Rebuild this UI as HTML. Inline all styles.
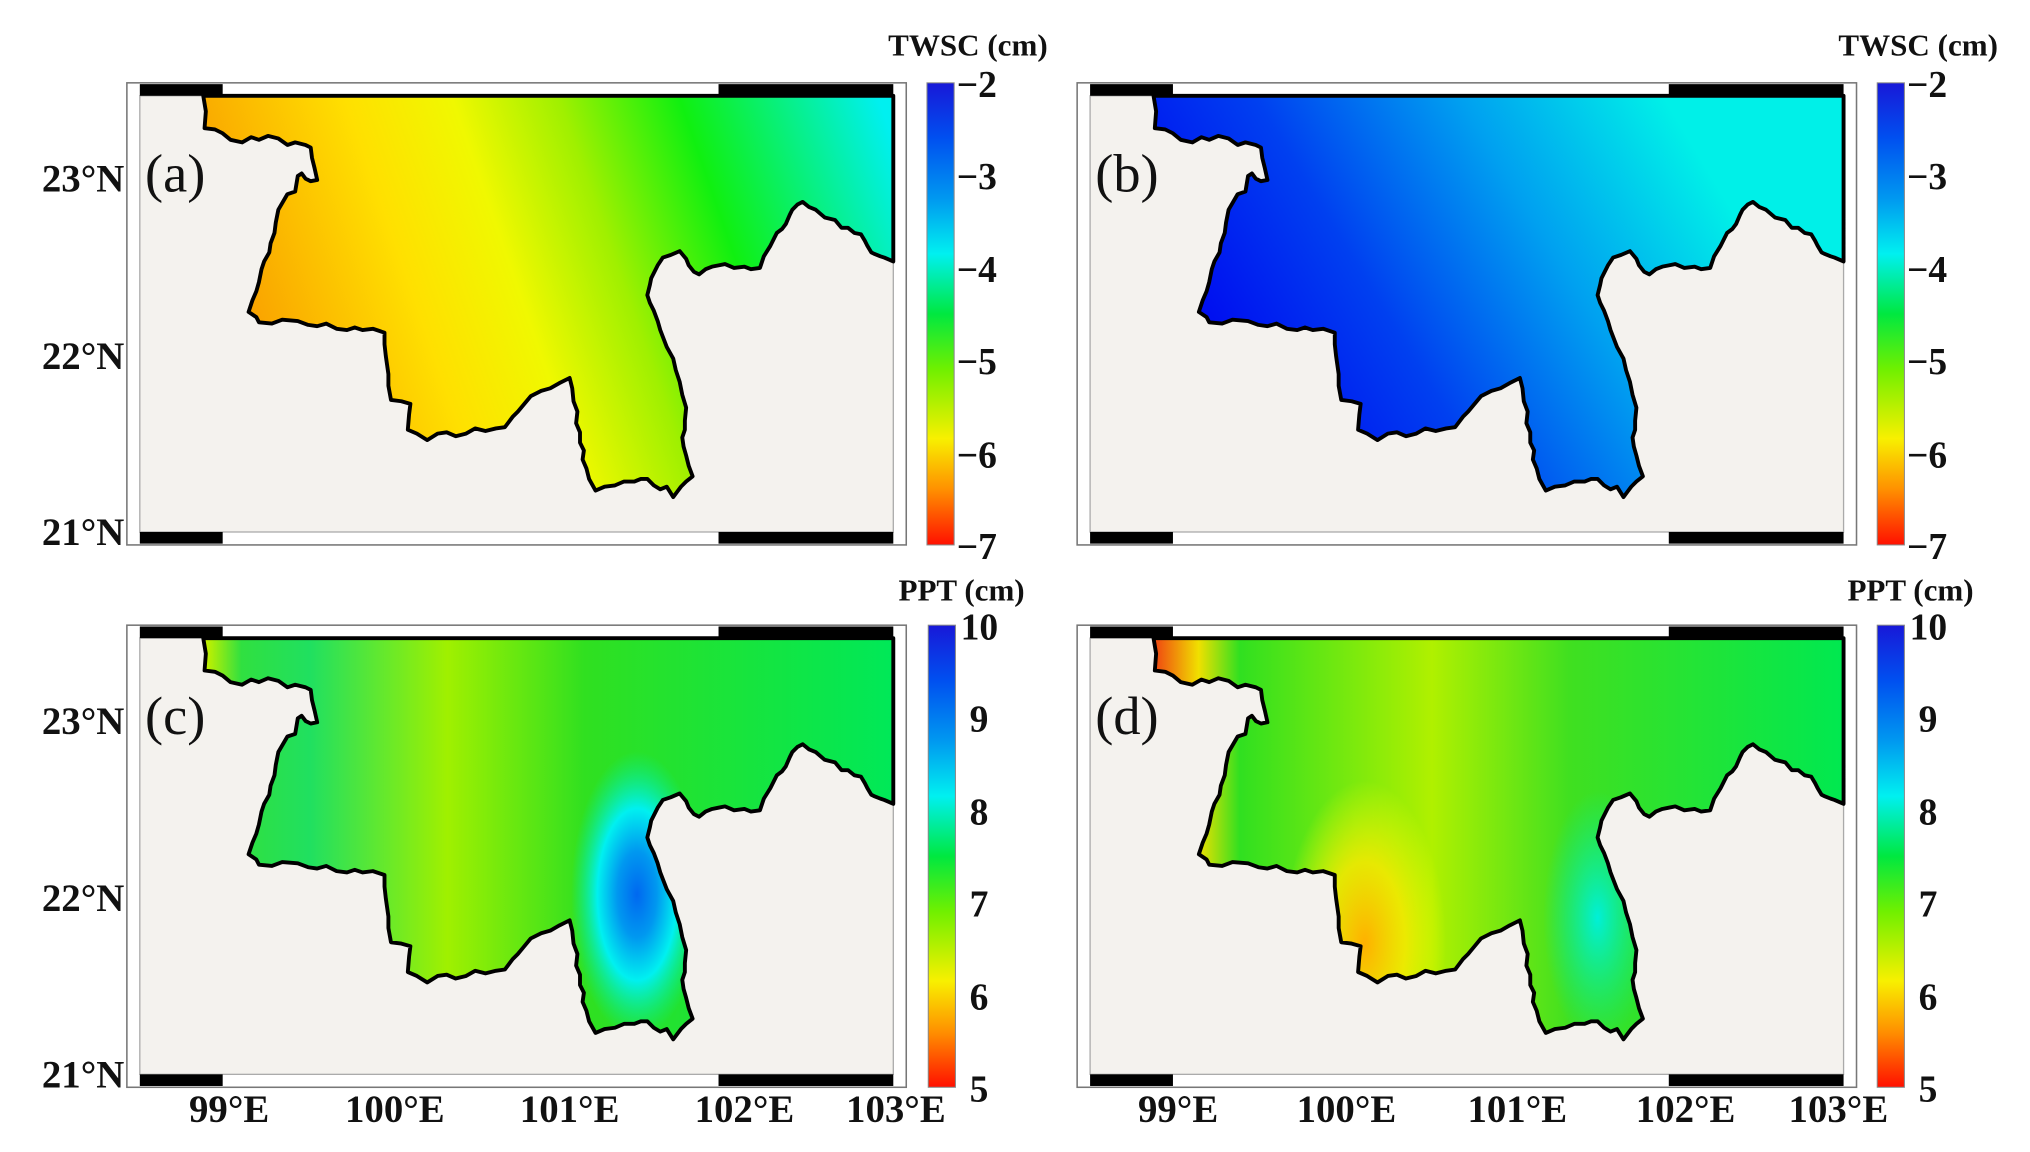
<!DOCTYPE html>
<html><head><meta charset="utf-8"><style>
html,body{margin:0;padding:0;background:#fff;}
svg{display:block;}
text{font-family:"Liberation Serif",serif;font-weight:bold;fill:#111;}
</style></head><body>
<svg width="2030" height="1152" viewBox="0 0 1568 890" preserveAspectRatio="none" xmlns="http://www.w3.org/2000/svg">
<defs>
<path id="shp" d="M157,74 L159,86 L158,99 L166,100 L172,103 L178,108 L187,110 L194,106 L200,108 L207,105 L215,107 L222,112 L228,110 L236,112 L240,114 L241,122 L243,130 L245,139 L240,140 L236,138 L233,134 L230,136 L228,148 L222,150 L215,162 L213,172 L212,180 L209,188 L208,195 L204,202 L202,208 L200,218 L198,225 L195,232 L192,241 L198,245 L200,249 L210,250 L218,247 L230,248 L238,251 L245,252 L252,250 L260,254 L268,255 L274,253 L280,255 L288,254 L297,257 L297,266 L298,275 L299,282 L300,289 L300,298 L302,309 L310,310 L317,312 L316,320 L315,332 L322,335 L330,340 L338,335 L345,334 L352,337 L360,335 L367,331 L375,333 L383,331 L390,330 L396,322 L400,318 L405,312 L410,306 L418,302 L425,300 L432,296 L440,292 L442,300 L443,310 L446,318 L445,327 L448,334 L448,342 L451,348 L450,355 L453,362 L455,370 L460,379 L467,376 L475,375 L482,372 L490,372 L495,370 L500,370 L505,375 L510,378 L515,376 L520,384 L523,380 L526,376 L530,372 L535,368 L532,360 L530,352 L528,345 L527,338 L529,332 L529,325 L530,315 L527,305 L525,295 L522,286 L520,277 L515,268 L510,255 L508,248 L505,240 L502,234 L500,228 L502,220 L503,215 L508,205 L512,199 L518,197 L525,194 L530,200 L532,205 L536,210 L540,212 L545,208 L550,206 L555,205 L560,204 L567,207 L575,206 L580,208 L587,207 L590,198 L595,190 L598,184 L600,180 L604,177 L607,173 L610,166 L612,162 L616,158 L620,156 L625,160 L630,162 L637,168 L645,170 L650,176 L655,176 L660,180 L665,181 L668,186 L670,190 L673,195 L675,196 L680,198 L683,199 L690,202 L690,74 Z"/>
<clipPath id="cl"><use href="#shp"/></clipPath>
<linearGradient id="ga" gradientUnits="userSpaceOnUse" x1="190" y1="250" x2="680" y2="80">
<stop offset="0" stop-color="#f9a000"/><stop offset="0.25" stop-color="#ffe000"/><stop offset="0.4" stop-color="#f0f800"/><stop offset="0.55" stop-color="#a0f000"/><stop offset="0.72" stop-color="#10f010"/><stop offset="1" stop-color="#00f0f0"/></linearGradient>
<linearGradient id="gb" gradientUnits="userSpaceOnUse" x1="230" y1="290" x2="560" y2="90">
<stop offset="0" stop-color="#0010f0"/><stop offset="0.3" stop-color="#0040f0"/><stop offset="0.65" stop-color="#00a0f0"/><stop offset="1" stop-color="#00f0e8"/></linearGradient>
<linearGradient id="gc" gradientUnits="userSpaceOnUse" x1="160" y1="0" x2="690" y2="0">
<stop offset="0" stop-color="#c0f000"/><stop offset="0.05" stop-color="#30e040"/><stop offset="0.15" stop-color="#20e060"/><stop offset="0.35" stop-color="#a0f000"/><stop offset="0.55" stop-color="#30e020"/><stop offset="1" stop-color="#00e858"/></linearGradient>
<radialGradient id="rc" gradientUnits="userSpaceOnUse" cx="492" cy="272" r="85" gradientTransform="translate(492 272) scale(0.6 1.3) translate(-492 -272)">
<stop offset="0" stop-color="#0068f0"/><stop offset="0.3" stop-color="#0098f0"/><stop offset="0.6" stop-color="#00f0f0"/><stop offset="1" stop-color="#00f0a0" stop-opacity="0"/></radialGradient>
<linearGradient id="gd" gradientUnits="userSpaceOnUse" x1="160" y1="0" x2="690" y2="0">
<stop offset="0" stop-color="#f05010"/><stop offset="0.06" stop-color="#f0e000"/><stop offset="0.12" stop-color="#30e020"/><stop offset="0.4" stop-color="#b0f000"/><stop offset="0.6" stop-color="#40e020"/><stop offset="1" stop-color="#00e850"/></linearGradient>
<radialGradient id="rd1" gradientUnits="userSpaceOnUse" cx="320" cy="310" r="90" gradientTransform="translate(320 310) scale(0.7 1.4) translate(-320 -310)">
<stop offset="0" stop-color="#ffb000"/><stop offset="0.5" stop-color="#ffe800" stop-opacity="0.8"/><stop offset="1" stop-color="#ffff00" stop-opacity="0"/></radialGradient>
<radialGradient id="rd2" gradientUnits="userSpaceOnUse" cx="500" cy="290" r="70" gradientTransform="translate(500 290) scale(0.6 1.4) translate(-500 -290)">
<stop offset="0" stop-color="#00f0d8"/><stop offset="1" stop-color="#00f0a0" stop-opacity="0"/></radialGradient>
<linearGradient id="jet" x1="0" y1="0" x2="0" y2="1">
<stop offset="0" stop-color="#1818d8"/><stop offset="0.12" stop-color="#0050f0"/><stop offset="0.25" stop-color="#0098f0"/><stop offset="0.37" stop-color="#00f0f0"/><stop offset="0.5" stop-color="#00e840"/><stop offset="0.62" stop-color="#70f000"/><stop offset="0.77" stop-color="#f8f000"/><stop offset="0.88" stop-color="#ff9000"/><stop offset="1" stop-color="#ff1000"/></linearGradient>
<g id="frame">
<rect x="98" y="64" width="602" height="357" fill="#fff" stroke="#777" stroke-width="1.2"/>
<rect x="108" y="74" width="582" height="337" fill="#f4f2ee" stroke="#aaa" stroke-width="1"/>
<rect x="108" y="65" width="64" height="9" fill="#000"/><rect x="555" y="65" width="135" height="9" fill="#000"/>
<rect x="108" y="411" width="64" height="9" fill="#000"/><rect x="555" y="411" width="135" height="9" fill="#000"/>
</g>
</defs>

<use href="#frame"/>
<g clip-path="url(#cl)"><rect x="108" y="74" width="582" height="337" fill="url(#ga)"/></g>
<use href="#shp" fill="none" stroke="#000" stroke-width="3" stroke-linejoin="round"/>
<text x="112" y="148" font-size="42" style="font-weight:normal">(a)</text>

<g transform="translate(734,0)">
<use href="#frame"/>
<g clip-path="url(#cl)"><rect x="108" y="74" width="582" height="337" fill="url(#gb)"/></g>
<use href="#shp" fill="none" stroke="#000" stroke-width="3" stroke-linejoin="round"/>
<text x="112" y="148" font-size="42" style="font-weight:normal">(b)</text>
</g>

<g transform="translate(0,419)">
<use href="#frame"/>
<g clip-path="url(#cl)"><rect x="108" y="74" width="582" height="337" fill="url(#gc)"/><rect x="108" y="74" width="582" height="337" fill="url(#rc)"/></g>
<use href="#shp" fill="none" stroke="#000" stroke-width="3" stroke-linejoin="round"/>
<text x="112" y="148" font-size="42" style="font-weight:normal">(c)</text>
</g>

<g transform="translate(734,419)">
<use href="#frame"/>
<g clip-path="url(#cl)"><rect x="108" y="74" width="582" height="337" fill="url(#gd)"/><rect x="108" y="74" width="582" height="337" fill="url(#rd1)"/><rect x="108" y="74" width="582" height="337" fill="url(#rd2)"/></g>
<use href="#shp" fill="none" stroke="#000" stroke-width="3" stroke-linejoin="round"/>
<text x="112" y="148" font-size="42" style="font-weight:normal">(d)</text>
</g>

<g font-size="30" text-anchor="end">
<text x="96" y="148">23°N</text><text x="96" y="285">22°N</text><text x="96" y="421">21°N</text>
<text x="96" y="567">23°N</text><text x="96" y="704">22°N</text><text x="96" y="840">21°N</text>
</g>
<g font-size="30" text-anchor="middle">
<text x="177" y="867">99°E</text><text x="305" y="867">100°E</text><text x="440" y="867">101°E</text><text x="575" y="867">102°E</text><text x="692" y="867">103°E</text>
<text x="910" y="867">99°E</text><text x="1040" y="867">100°E</text><text x="1172" y="867">101°E</text><text x="1302" y="867">102°E</text><text x="1420" y="867">103°E</text>
</g>

<g>
<rect x="716" y="64" width="21" height="357" fill="url(#jet)" stroke="#888" stroke-width="0.8"/>
<g font-size="29" style="font-weight:normal">
<text x="739" y="75">−2</text><text x="739" y="146">−3</text><text x="739" y="218">−4</text><text x="739" y="289">−5</text><text x="739" y="361">−6</text><text x="739" y="432">−7</text>
</g>
<text x="686" y="43" font-size="24">TWSC (cm)</text>
</g>
<g transform="translate(734,0)">
<rect x="716" y="64" width="21" height="357" fill="url(#jet)" stroke="#888" stroke-width="0.8"/>
<g font-size="29" style="font-weight:normal">
<text x="739" y="75">−2</text><text x="739" y="146">−3</text><text x="739" y="218">−4</text><text x="739" y="289">−5</text><text x="739" y="361">−6</text><text x="739" y="432">−7</text>
</g>
<text x="686" y="43" font-size="24">TWSC (cm)</text>
</g>
<g transform="translate(1,419)">
<rect x="716" y="64" width="21" height="357" fill="url(#jet)" stroke="#888" stroke-width="0.8"/>
<g font-size="29" style="font-weight:normal">
<text x="741" y="75">10</text><text x="748" y="146">9</text><text x="748" y="218">8</text><text x="748" y="289">7</text><text x="748" y="361">6</text><text x="748" y="432">5</text>
</g>
<text x="693" y="45" font-size="24">PPT (cm)</text>
</g>
<g transform="translate(734,419)">
<rect x="716" y="64" width="21" height="357" fill="url(#jet)" stroke="#888" stroke-width="0.8"/>
<g font-size="29" style="font-weight:normal">
<text x="741" y="75">10</text><text x="748" y="146">9</text><text x="748" y="218">8</text><text x="748" y="289">7</text><text x="748" y="361">6</text><text x="748" y="432">5</text>
</g>
<text x="693" y="45" font-size="24">PPT (cm)</text>
</g>
</svg>
</body></html>
